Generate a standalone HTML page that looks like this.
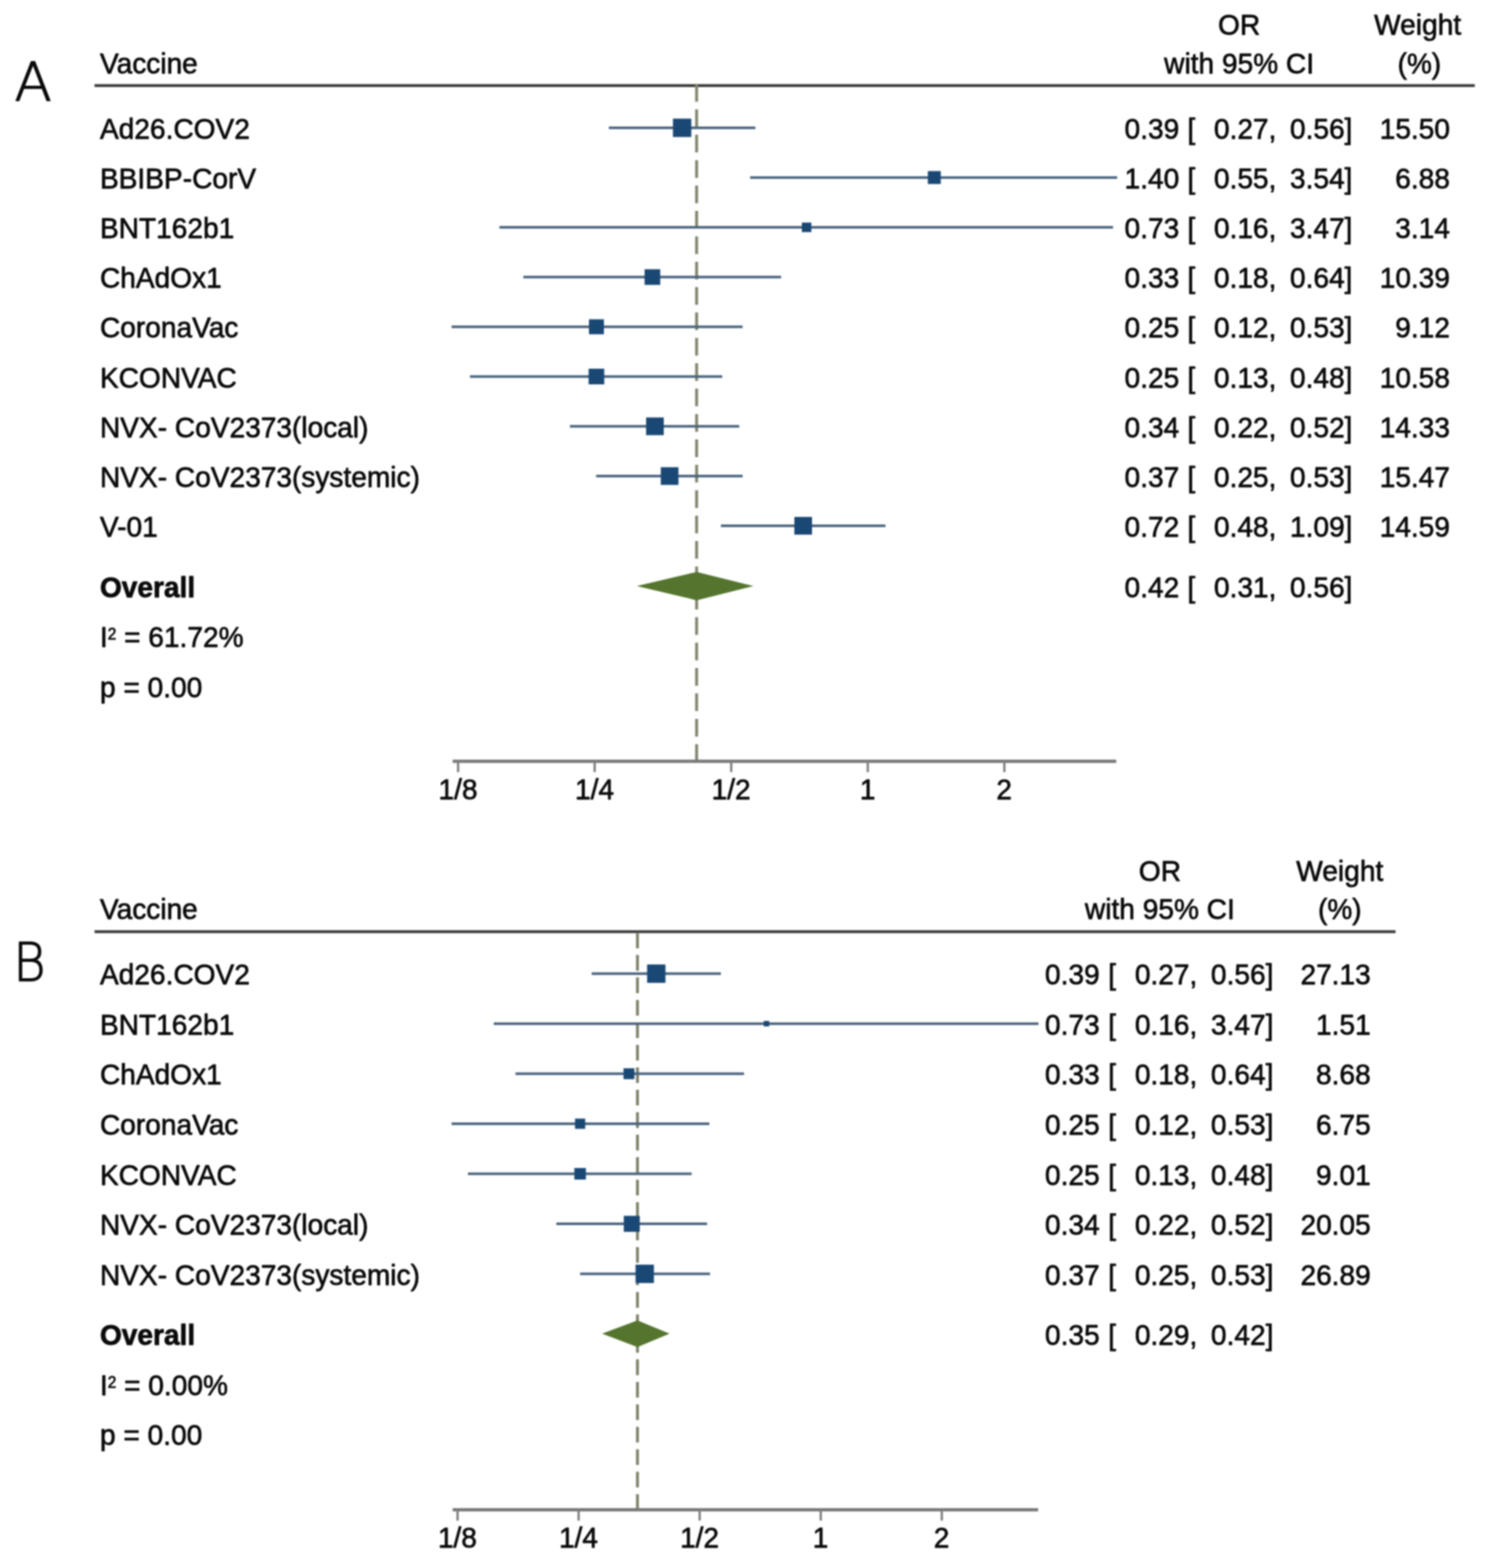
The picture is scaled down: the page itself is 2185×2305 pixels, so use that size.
<!DOCTYPE html>
<html lang="en">
<head>
<meta charset="utf-8">
<title>Forest plots</title>
<style>
html,body{margin:0;padding:0;background:#fff;}
body{width:2185px;height:2305px;overflow:hidden;}
svg{display:block;font-family:"Liberation Sans",Arial,Helvetica,sans-serif;filter:blur(0.8px);}
svg text{fill:#0a0a0a;stroke:#0a0a0a;stroke-width:0.95px;stroke-linejoin:round;}
svg text.L{font-family:"DejaVu Sans","Liberation Sans",sans-serif;font-weight:200;stroke-width:1.6px;}
</style>
</head>
<body>
<svg width="2185" height="2305" viewBox="0 0 2185 2305">
<rect x="-10" y="-10" width="2205" height="2325" fill="#ffffff"/>
<text transform="matrix(1 0 0 1.04 147.0 107.5)" font-size="41.3" text-anchor="start">Vaccine</text>
<text transform="matrix(1 0 0 1.04 1822.0 51.2)" font-size="41.3" text-anchor="middle">OR</text>
<text transform="matrix(1 0 0 1.04 1822.0 107.5)" font-size="41.3" text-anchor="middle">with 95% CI</text>
<text transform="matrix(1 0 0 1.04 2084.5 51.2)" font-size="41.3" text-anchor="middle">Weight</text>
<text transform="matrix(1 0 0 1.04 2087.0 107.5)" font-size="41.3" text-anchor="middle">(%)</text>
<rect x="139" y="123.7" width="2029.5" height="4.2" fill="#3a3a3a"/>
<line x1="1024.3" x2="1024.3" y1="123.4" y2="1119" stroke="#80866e" stroke-width="4.3" stroke-dasharray="26.0 11.33"/>
<rect x="895.2" y="186.00" width="215.5" height="3.8" fill="#4a647e"/>
<rect x="989.5" y="174.4" width="27" height="27" fill="#1a4874"/>
<text transform="matrix(1 0 0 1.04 147.0 203.9)" font-size="41.3" text-anchor="start">Ad26.COV2</text>
<text transform="matrix(1 0 0 1.04 1734.0 203.9)" font-size="41.3" text-anchor="end">0.39</text>
<text transform="matrix(1 0 0 1.04 1746.0 203.9)" font-size="41.3" text-anchor="start">[</text>
<text transform="matrix(1 0 0 1.04 1876.8 203.9)" font-size="41.3" text-anchor="end">0.27,</text>
<text transform="matrix(1 0 0 1.04 1988.6 203.9)" font-size="41.3" text-anchor="end">0.56]</text>
<text transform="matrix(1 0 0 1.04 2132.0 203.9)" font-size="41.3" text-anchor="end">15.50</text>
<rect x="1103.0" y="259.13" width="539.7" height="3.8" fill="#4a647e"/>
<rect x="1364.3" y="251.5" width="19" height="19" fill="#1a4874"/>
<text transform="matrix(1 0 0 1.04 147.0 277.0)" font-size="41.3" text-anchor="start">BBIBP-CorV</text>
<text transform="matrix(1 0 0 1.04 1734.0 277.0)" font-size="41.3" text-anchor="end">1.40</text>
<text transform="matrix(1 0 0 1.04 1746.0 277.0)" font-size="41.3" text-anchor="start">[</text>
<text transform="matrix(1 0 0 1.04 1876.8 277.0)" font-size="41.3" text-anchor="end">0.55,</text>
<text transform="matrix(1 0 0 1.04 1988.6 277.0)" font-size="41.3" text-anchor="end">3.54]</text>
<text transform="matrix(1 0 0 1.04 2132.0 277.0)" font-size="41.3" text-anchor="end">6.88</text>
<rect x="734.3" y="332.26" width="902.3" height="3.8" fill="#4a647e"/>
<rect x="1179.0" y="327.2" width="14" height="14" fill="#1a4874"/>
<text transform="matrix(1 0 0 1.04 147.0 350.2)" font-size="41.3" text-anchor="start">BNT162b1</text>
<text transform="matrix(1 0 0 1.04 1734.0 350.2)" font-size="41.3" text-anchor="end">0.73</text>
<text transform="matrix(1 0 0 1.04 1746.0 350.2)" font-size="41.3" text-anchor="start">[</text>
<text transform="matrix(1 0 0 1.04 1876.8 350.2)" font-size="41.3" text-anchor="end">0.16,</text>
<text transform="matrix(1 0 0 1.04 1988.6 350.2)" font-size="41.3" text-anchor="end">3.47]</text>
<text transform="matrix(1 0 0 1.04 2132.0 350.2)" font-size="41.3" text-anchor="end">3.14</text>
<rect x="769.5" y="405.39" width="379.0" height="3.8" fill="#4a647e"/>
<rect x="947.8" y="395.8" width="23" height="23" fill="#1a4874"/>
<text transform="matrix(1 0 0 1.04 147.0 423.3)" font-size="41.3" text-anchor="start">ChAdOx1</text>
<text transform="matrix(1 0 0 1.04 1734.0 423.3)" font-size="41.3" text-anchor="end">0.33</text>
<text transform="matrix(1 0 0 1.04 1746.0 423.3)" font-size="41.3" text-anchor="start">[</text>
<text transform="matrix(1 0 0 1.04 1876.8 423.3)" font-size="41.3" text-anchor="end">0.18,</text>
<text transform="matrix(1 0 0 1.04 1988.6 423.3)" font-size="41.3" text-anchor="end">0.64]</text>
<text transform="matrix(1 0 0 1.04 2132.0 423.3)" font-size="41.3" text-anchor="end">10.39</text>
<rect x="664.0" y="478.52" width="428.0" height="3.8" fill="#4a647e"/>
<rect x="866.0" y="469.4" width="22" height="22" fill="#1a4874"/>
<text transform="matrix(1 0 0 1.04 147.0 496.4)" font-size="41.3" text-anchor="start">CoronaVac</text>
<text transform="matrix(1 0 0 1.04 1734.0 496.4)" font-size="41.3" text-anchor="end">0.25</text>
<text transform="matrix(1 0 0 1.04 1746.0 496.4)" font-size="41.3" text-anchor="start">[</text>
<text transform="matrix(1 0 0 1.04 1876.8 496.4)" font-size="41.3" text-anchor="end">0.12,</text>
<text transform="matrix(1 0 0 1.04 1988.6 496.4)" font-size="41.3" text-anchor="end">0.53]</text>
<text transform="matrix(1 0 0 1.04 2132.0 496.4)" font-size="41.3" text-anchor="end">9.12</text>
<rect x="691.0" y="551.65" width="371.0" height="3.8" fill="#4a647e"/>
<rect x="865.5" y="542.0" width="23" height="23" fill="#1a4874"/>
<text transform="matrix(1 0 0 1.04 147.0 569.5)" font-size="41.3" text-anchor="start">KCONVAC</text>
<text transform="matrix(1 0 0 1.04 1734.0 569.5)" font-size="41.3" text-anchor="end">0.25</text>
<text transform="matrix(1 0 0 1.04 1746.0 569.5)" font-size="41.3" text-anchor="start">[</text>
<text transform="matrix(1 0 0 1.04 1876.8 569.5)" font-size="41.3" text-anchor="end">0.13,</text>
<text transform="matrix(1 0 0 1.04 1988.6 569.5)" font-size="41.3" text-anchor="end">0.48]</text>
<text transform="matrix(1 0 0 1.04 2132.0 569.5)" font-size="41.3" text-anchor="end">10.58</text>
<rect x="838.0" y="624.78" width="249.0" height="3.8" fill="#4a647e"/>
<rect x="950.0" y="613.7" width="26" height="26" fill="#1a4874"/>
<text transform="matrix(1 0 0 1.04 147.0 642.7)" font-size="41.3" text-anchor="start">NVX- CoV2373(local)</text>
<text transform="matrix(1 0 0 1.04 1734.0 642.7)" font-size="41.3" text-anchor="end">0.34</text>
<text transform="matrix(1 0 0 1.04 1746.0 642.7)" font-size="41.3" text-anchor="start">[</text>
<text transform="matrix(1 0 0 1.04 1876.8 642.7)" font-size="41.3" text-anchor="end">0.22,</text>
<text transform="matrix(1 0 0 1.04 1988.6 642.7)" font-size="41.3" text-anchor="end">0.52]</text>
<text transform="matrix(1 0 0 1.04 2132.0 642.7)" font-size="41.3" text-anchor="end">14.33</text>
<rect x="876.5" y="697.91" width="215.5" height="3.8" fill="#4a647e"/>
<rect x="971.6" y="686.8" width="26" height="26" fill="#1a4874"/>
<text transform="matrix(1 0 0 1.04 147.0 715.8)" font-size="41.3" text-anchor="start">NVX- CoV2373(systemic)</text>
<text transform="matrix(1 0 0 1.04 1734.0 715.8)" font-size="41.3" text-anchor="end">0.37</text>
<text transform="matrix(1 0 0 1.04 1746.0 715.8)" font-size="41.3" text-anchor="start">[</text>
<text transform="matrix(1 0 0 1.04 1876.8 715.8)" font-size="41.3" text-anchor="end">0.25,</text>
<text transform="matrix(1 0 0 1.04 1988.6 715.8)" font-size="41.3" text-anchor="end">0.53]</text>
<text transform="matrix(1 0 0 1.04 2132.0 715.8)" font-size="41.3" text-anchor="end">15.47</text>
<rect x="1060.0" y="771.04" width="242.0" height="3.8" fill="#4a647e"/>
<rect x="1168.0" y="759.9" width="26" height="26" fill="#1a4874"/>
<text transform="matrix(1 0 0 1.04 147.0 788.9)" font-size="41.3" text-anchor="start">V-01</text>
<text transform="matrix(1 0 0 1.04 1734.0 788.9)" font-size="41.3" text-anchor="end">0.72</text>
<text transform="matrix(1 0 0 1.04 1746.0 788.9)" font-size="41.3" text-anchor="start">[</text>
<text transform="matrix(1 0 0 1.04 1876.8 788.9)" font-size="41.3" text-anchor="end">0.48,</text>
<text transform="matrix(1 0 0 1.04 1988.6 788.9)" font-size="41.3" text-anchor="end">1.09]</text>
<text transform="matrix(1 0 0 1.04 2132.0 788.9)" font-size="41.3" text-anchor="end">14.59</text>
<polygon points="936.3,861.6 1024.3,840.8 1107.8,861.6 1024.3,882.4" fill="#55752f"/>
<text transform="matrix(1 0 0 1.04 147.0 878.2)" font-size="41.3" text-anchor="start" font-weight="bold">Overall</text>
<text transform="matrix(1 0 0 1.04 1734.0 878.2)" font-size="41.3" text-anchor="end">0.42</text>
<text transform="matrix(1 0 0 1.04 1746.0 878.2)" font-size="41.3" text-anchor="start">[</text>
<text transform="matrix(1 0 0 1.04 1876.8 878.2)" font-size="41.3" text-anchor="end">0.31,</text>
<text transform="matrix(1 0 0 1.04 1988.6 878.2)" font-size="41.3" text-anchor="end">0.56]</text>
<text transform="matrix(1 0 0 1.04 147.0 951.4)" font-size="41.3" text-anchor="start">I<tspan font-size="22.5" dy="-10.5">2</tspan><tspan dy="10.5"> = 61.72%</tspan></text>
<text transform="matrix(1 0 0 1.04 147.0 1024.5)" font-size="41.3" text-anchor="start">p = 0.00</text>
<rect x="665.6" y="1116.7" width="975.7" height="4.8" fill="#787878"/>
<rect x="671.9" y="1119" width="3.4" height="16" fill="#808080"/>
<text transform="matrix(1 0 0 1.04 673.4 1174.5)" font-size="41.3" text-anchor="middle">1/8</text>
<rect x="872.7" y="1119" width="3.4" height="16" fill="#808080"/>
<text transform="matrix(1 0 0 1.04 874.2 1174.5)" font-size="41.3" text-anchor="middle">1/4</text>
<rect x="1073.5" y="1119" width="3.4" height="16" fill="#808080"/>
<text transform="matrix(1 0 0 1.04 1075.0 1174.5)" font-size="41.3" text-anchor="middle">1/2</text>
<rect x="1274.3" y="1119" width="3.4" height="16" fill="#808080"/>
<text transform="matrix(1 0 0 1.04 1275.8 1174.5)" font-size="41.3" text-anchor="middle">1</text>
<rect x="1475.1" y="1119" width="3.4" height="16" fill="#808080"/>
<text transform="matrix(1 0 0 1.04 1476.6 1174.5)" font-size="41.3" text-anchor="middle">2</text>
<text class="L" transform="matrix(1.03 0 0 1 21.3 148.0)" font-size="78">A</text>
<text transform="matrix(1 0 0 1.04 147.0 1351.2)" font-size="41.3" text-anchor="start">Vaccine</text>
<text transform="matrix(1 0 0 1.04 1705.5 1294.9)" font-size="41.3" text-anchor="middle">OR</text>
<text transform="matrix(1 0 0 1.04 1705.5 1351.2)" font-size="41.3" text-anchor="middle">with 95% CI</text>
<text transform="matrix(1 0 0 1.04 1970.0 1294.9)" font-size="41.3" text-anchor="middle">Weight</text>
<text transform="matrix(1 0 0 1.04 1970.0 1351.2)" font-size="41.3" text-anchor="middle">(%)</text>
<rect x="139" y="1367.5" width="1913" height="4.2" fill="#3a3a3a"/>
<line x1="937.3" x2="937.3" y1="1370.8" y2="2219.3" stroke="#7b8168" stroke-width="4.2" stroke-dasharray="23.1 9.93"/>
<rect x="870.0" y="1429.40" width="190.0" height="3.8" fill="#4a647e"/>
<rect x="951.5" y="1417.8" width="27" height="27" fill="#1a4874"/>
<text transform="matrix(1 0 0 1.04 147.0 1447.3)" font-size="41.3" text-anchor="start">Ad26.COV2</text>
<text transform="matrix(1 0 0 1.04 1617.0 1447.3)" font-size="41.3" text-anchor="end">0.39</text>
<text transform="matrix(1 0 0 1.04 1629.5 1447.3)" font-size="41.3" text-anchor="start">[</text>
<text transform="matrix(1 0 0 1.04 1760.5 1447.3)" font-size="41.3" text-anchor="end">0.27,</text>
<text transform="matrix(1 0 0 1.04 1872.4 1447.3)" font-size="41.3" text-anchor="end">0.56]</text>
<text transform="matrix(1 0 0 1.04 2015.5 1447.3)" font-size="41.3" text-anchor="end">27.13</text>
<rect x="726.0" y="1502.95" width="801.0" height="3.8" fill="#4a647e"/>
<rect x="1123.0" y="1500.8" width="8" height="8" fill="#1a4874"/>
<text transform="matrix(1 0 0 1.04 147.0 1520.8)" font-size="41.3" text-anchor="start">BNT162b1</text>
<text transform="matrix(1 0 0 1.04 1617.0 1520.8)" font-size="41.3" text-anchor="end">0.73</text>
<text transform="matrix(1 0 0 1.04 1629.5 1520.8)" font-size="41.3" text-anchor="start">[</text>
<text transform="matrix(1 0 0 1.04 1760.5 1520.8)" font-size="41.3" text-anchor="end">0.16,</text>
<text transform="matrix(1 0 0 1.04 1872.4 1520.8)" font-size="41.3" text-anchor="end">3.47]</text>
<text transform="matrix(1 0 0 1.04 2015.5 1520.8)" font-size="41.3" text-anchor="end">1.51</text>
<rect x="758.0" y="1576.50" width="336.0" height="3.8" fill="#4a647e"/>
<rect x="916.8" y="1570.4" width="16" height="16" fill="#1a4874"/>
<text transform="matrix(1 0 0 1.04 147.0 1594.4)" font-size="41.3" text-anchor="start">ChAdOx1</text>
<text transform="matrix(1 0 0 1.04 1617.0 1594.4)" font-size="41.3" text-anchor="end">0.33</text>
<text transform="matrix(1 0 0 1.04 1629.5 1594.4)" font-size="41.3" text-anchor="start">[</text>
<text transform="matrix(1 0 0 1.04 1760.5 1594.4)" font-size="41.3" text-anchor="end">0.18,</text>
<text transform="matrix(1 0 0 1.04 1872.4 1594.4)" font-size="41.3" text-anchor="end">0.64]</text>
<text transform="matrix(1 0 0 1.04 2015.5 1594.4)" font-size="41.3" text-anchor="end">8.68</text>
<rect x="664.0" y="1650.05" width="379.0" height="3.8" fill="#4a647e"/>
<rect x="845.5" y="1644.4" width="15" height="15" fill="#1a4874"/>
<text transform="matrix(1 0 0 1.04 147.0 1667.9)" font-size="41.3" text-anchor="start">CoronaVac</text>
<text transform="matrix(1 0 0 1.04 1617.0 1667.9)" font-size="41.3" text-anchor="end">0.25</text>
<text transform="matrix(1 0 0 1.04 1629.5 1667.9)" font-size="41.3" text-anchor="start">[</text>
<text transform="matrix(1 0 0 1.04 1760.5 1667.9)" font-size="41.3" text-anchor="end">0.12,</text>
<text transform="matrix(1 0 0 1.04 1872.4 1667.9)" font-size="41.3" text-anchor="end">0.53]</text>
<text transform="matrix(1 0 0 1.04 2015.5 1667.9)" font-size="41.3" text-anchor="end">6.75</text>
<rect x="688.0" y="1723.60" width="329.0" height="3.8" fill="#4a647e"/>
<rect x="844.5" y="1717.0" width="17" height="17" fill="#1a4874"/>
<text transform="matrix(1 0 0 1.04 147.0 1741.5)" font-size="41.3" text-anchor="start">KCONVAC</text>
<text transform="matrix(1 0 0 1.04 1617.0 1741.5)" font-size="41.3" text-anchor="end">0.25</text>
<text transform="matrix(1 0 0 1.04 1629.5 1741.5)" font-size="41.3" text-anchor="start">[</text>
<text transform="matrix(1 0 0 1.04 1760.5 1741.5)" font-size="41.3" text-anchor="end">0.13,</text>
<text transform="matrix(1 0 0 1.04 1872.4 1741.5)" font-size="41.3" text-anchor="end">0.48]</text>
<text transform="matrix(1 0 0 1.04 2015.5 1741.5)" font-size="41.3" text-anchor="end">9.01</text>
<rect x="818.0" y="1797.15" width="221.7" height="3.8" fill="#4a647e"/>
<rect x="917.2" y="1787.3" width="23.5" height="23.5" fill="#1a4874"/>
<text transform="matrix(1 0 0 1.04 147.0 1815.0)" font-size="41.3" text-anchor="start">NVX- CoV2373(local)</text>
<text transform="matrix(1 0 0 1.04 1617.0 1815.0)" font-size="41.3" text-anchor="end">0.34</text>
<text transform="matrix(1 0 0 1.04 1629.5 1815.0)" font-size="41.3" text-anchor="start">[</text>
<text transform="matrix(1 0 0 1.04 1760.5 1815.0)" font-size="41.3" text-anchor="end">0.22,</text>
<text transform="matrix(1 0 0 1.04 1872.4 1815.0)" font-size="41.3" text-anchor="end">0.52]</text>
<text transform="matrix(1 0 0 1.04 2015.5 1815.0)" font-size="41.3" text-anchor="end">20.05</text>
<rect x="853.0" y="1870.70" width="191.0" height="3.8" fill="#4a647e"/>
<rect x="934.5" y="1859.1" width="27" height="27" fill="#1a4874"/>
<text transform="matrix(1 0 0 1.04 147.0 1888.6)" font-size="41.3" text-anchor="start">NVX- CoV2373(systemic)</text>
<text transform="matrix(1 0 0 1.04 1617.0 1888.6)" font-size="41.3" text-anchor="end">0.37</text>
<text transform="matrix(1 0 0 1.04 1629.5 1888.6)" font-size="41.3" text-anchor="start">[</text>
<text transform="matrix(1 0 0 1.04 1760.5 1888.6)" font-size="41.3" text-anchor="end">0.25,</text>
<text transform="matrix(1 0 0 1.04 1872.4 1888.6)" font-size="41.3" text-anchor="end">0.53]</text>
<text transform="matrix(1 0 0 1.04 2015.5 1888.6)" font-size="41.3" text-anchor="end">26.89</text>
<polygon points="885.3,1960.6 937.3,1941.0 984.5,1960.6 937.3,1980.2" fill="#55752f"/>
<text transform="matrix(1 0 0 1.04 147.0 1977.2)" font-size="41.3" text-anchor="start" font-weight="bold">Overall</text>
<text transform="matrix(1 0 0 1.04 1617.0 1977.2)" font-size="41.3" text-anchor="end">0.35</text>
<text transform="matrix(1 0 0 1.04 1629.5 1977.2)" font-size="41.3" text-anchor="start">[</text>
<text transform="matrix(1 0 0 1.04 1760.5 1977.2)" font-size="41.3" text-anchor="end">0.29,</text>
<text transform="matrix(1 0 0 1.04 1872.4 1977.2)" font-size="41.3" text-anchor="end">0.42]</text>
<text transform="matrix(1 0 0 1.04 147.0 2050.7)" font-size="41.3" text-anchor="start">I<tspan font-size="22.5" dy="-10.5">2</tspan><tspan dy="10.5"> = 0.00%</tspan></text>
<text transform="matrix(1 0 0 1.04 147.0 2124.3)" font-size="41.3" text-anchor="start">p = 0.00</text>
<rect x="665.6" y="2217.0" width="860.9" height="4.8" fill="#787878"/>
<rect x="671.1" y="2219.3" width="3.4" height="16" fill="#808080"/>
<text transform="matrix(1 0 0 1.04 672.6 2274.8)" font-size="41.3" text-anchor="middle">1/8</text>
<rect x="849.1" y="2219.3" width="3.4" height="16" fill="#808080"/>
<text transform="matrix(1 0 0 1.04 850.6 2274.8)" font-size="41.3" text-anchor="middle">1/4</text>
<rect x="1027.1" y="2219.3" width="3.4" height="16" fill="#808080"/>
<text transform="matrix(1 0 0 1.04 1028.6 2274.8)" font-size="41.3" text-anchor="middle">1/2</text>
<rect x="1205.1" y="2219.3" width="3.4" height="16" fill="#808080"/>
<text transform="matrix(1 0 0 1.04 1206.6 2274.8)" font-size="41.3" text-anchor="middle">1</text>
<rect x="1383.1" y="2219.3" width="3.4" height="16" fill="#808080"/>
<text transform="matrix(1 0 0 1.04 1384.6 2274.8)" font-size="41.3" text-anchor="middle">2</text>
<text class="L" transform="matrix(0.925 0 0 1 19.5 1441.6)" font-size="78.5">B</text>
</svg>
</body>
</html>
